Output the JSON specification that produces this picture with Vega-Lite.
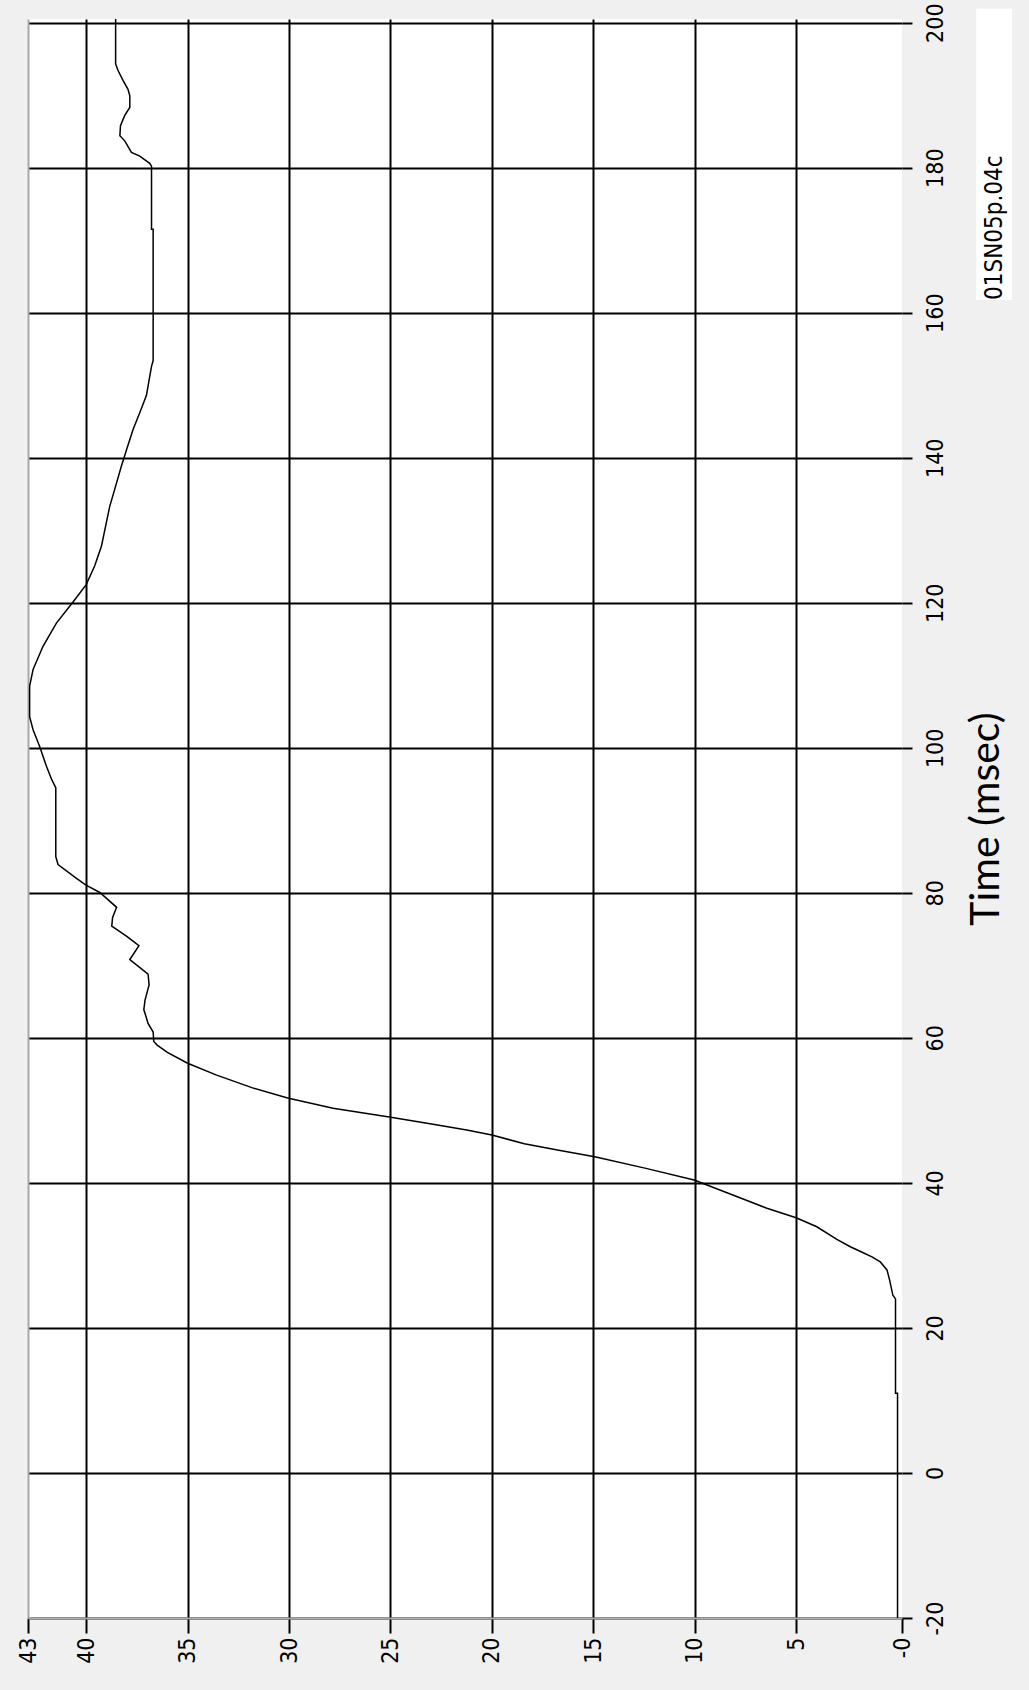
{
  "$schema": "https://vega.github.io/schema/vega-lite/v6.json",
  "autosize": "none",
  "padding": {"left": 28, "top": 19, "right": 127, "bottom": 72},
  "width": 874,
  "height": 1599,
  "background": "#f0f0f0",
  "config": {
    "view": {"stroke": null, "fill": "white"}
  },
  "resolve": {"axis": {"y": "independent"}},
  "layer": [
    {
      "data": {
        "values": [
          {"t": -20, "v": 0}, {"t": 11, "v": 0}, {"t": 11, "v": 0.1}, {"t": 24, "v": 0.1},
          {"t": 24.5, "v": 0.23}, {"t": 26.6, "v": 0.39}, {"t": 28, "v": 0.52}, {"t": 29.1, "v": 0.85},
          {"t": 29.8, "v": 1.26}, {"t": 30.5, "v": 1.8}, {"t": 31.2, "v": 2.33}, {"t": 32.2, "v": 2.99},
          {"t": 33.95, "v": 3.98}, {"t": 35.2, "v": 5.0}, {"t": 36.5, "v": 6.44}, {"t": 38.3, "v": 8.09},
          {"t": 40.4, "v": 10.03}, {"t": 42.0, "v": 12.4}, {"t": 43.6, "v": 14.93}, {"t": 44.5, "v": 16.7},
          {"t": 45.4, "v": 18.4}, {"t": 46.6, "v": 20.0}, {"t": 47.3, "v": 21.24}, {"t": 48.1, "v": 22.9},
          {"t": 49.1, "v": 25.06}, {"t": 50.3, "v": 27.83}, {"t": 51.7, "v": 30.07}, {"t": 53.1, "v": 31.8},
          {"t": 54.9, "v": 33.6}, {"t": 56.5, "v": 35.0}, {"t": 58.0, "v": 36.0}, {"t": 59.0, "v": 36.5},
          {"t": 59.5, "v": 36.67}, {"t": 60.8, "v": 36.7}, {"t": 62.0, "v": 36.95}, {"t": 63.9, "v": 37.16},
          {"t": 65.2, "v": 37.1}, {"t": 67.3, "v": 36.9}, {"t": 68.8, "v": 36.95}, {"t": 70.8, "v": 37.85},
          {"t": 72.7, "v": 37.4}, {"t": 74.0, "v": 38.0}, {"t": 75.4, "v": 38.74}, {"t": 76.6, "v": 38.7},
          {"t": 78.0, "v": 38.5}, {"t": 80.05, "v": 39.33}, {"t": 81.1, "v": 40.03}, {"t": 82.0, "v": 40.48},
          {"t": 83.9, "v": 41.39}, {"t": 85.0, "v": 41.5}, {"t": 94.5, "v": 41.5}, {"t": 95.6, "v": 41.7},
          {"t": 97.45, "v": 41.96}, {"t": 100.2, "v": 42.3}, {"t": 102.5, "v": 42.62}, {"t": 104.3, "v": 42.79},
          {"t": 108.5, "v": 42.79}, {"t": 110.8, "v": 42.62}, {"t": 114.0, "v": 42.13}, {"t": 117.2, "v": 41.47},
          {"t": 120.1, "v": 40.65}, {"t": 122.5, "v": 40.0}, {"t": 125.1, "v": 39.58}, {"t": 127.8, "v": 39.25},
          {"t": 130.6, "v": 39.04}, {"t": 133.3, "v": 38.84}, {"t": 135.6, "v": 38.6}, {"t": 138.9, "v": 38.26},
          {"t": 141.2, "v": 38.0}, {"t": 143.9, "v": 37.69}, {"t": 146.2, "v": 37.36}, {"t": 148.6, "v": 37.03},
          {"t": 151.2, "v": 36.87}, {"t": 152.6, "v": 36.78}, {"t": 153.4, "v": 36.7}, {"t": 171.5, "v": 36.7},
          {"t": 171.5, "v": 36.78}, {"t": 180.2, "v": 36.78}, {"t": 180.6, "v": 36.87}, {"t": 181.6, "v": 37.36},
          {"t": 182.1, "v": 37.77}, {"t": 183.7, "v": 38.1}, {"t": 184.4, "v": 38.34}, {"t": 185.8, "v": 38.31},
          {"t": 187.2, "v": 38.1}, {"t": 188.3, "v": 37.85}, {"t": 189.9, "v": 37.85}, {"t": 190.8, "v": 37.94},
          {"t": 192.0, "v": 38.18}, {"t": 193.4, "v": 38.43}, {"t": 194.3, "v": 38.55}, {"t": 200.5, "v": 38.55}
        ]
      },
      "mark": {"type": "line", "stroke": "black", "strokeWidth": 1.5, "interpolate": "linear"},
      "encoding": {
        "x": {
          "field": "v", "type": "quantitative",
          "scale": {"domain": [-0.22, 42.87], "reverse": true, "nice": false, "zero": false},
          "axis": {
            "orient": "bottom",
            "values": [42.87, 40, 35, 30, 25, 20, 15, 10, 5, -0.22],
            "labelExpr": "datum.value > 42 ? '43' : (datum.value < 0 ? '-0' : datum.label)",
            "title": null,
            "grid": true,
            "gridColor": "black",
            "gridWidth": 2,
            "gridOpacity": {"condition": {"test": "datum.value < 1 || datum.value > 42", "value": 0}, "value": 1},
            "domain": true,
            "domainColor": "#a8a8a8",
            "domainWidth": 2,
            "ticks": true,
            "tickColor": "black",
            "tickWidth": 2,
            "tickSize": 15,
            "labelAngle": -90,
            "labelAlign": "right",
            "labelBaseline": "middle",
            "labelPadding": 4,
            "labelFont": "DejaVu Sans Condensed",
            "labelFontSize": 23,
            "labelColor": "black",
            "labelOverlap": false,
            "labelFlush": false
          }
        },
        "y": {
          "field": "t", "type": "quantitative",
          "scale": {"domain": [-20, 200.5], "nice": false, "zero": false},
          "axis": {
            "orient": "right",
            "values": [-20, 0, 20, 40, 60, 80, 100, 120, 140, 160, 180, 200],
            "labelExpr": "datum.value < 0 ? '-20' : datum.label",
            "title": "Time (msec)",
            "titleFont": "Lato",
            "titleFontSize": 41,
            "titleFontWeight": "normal",
            "titleColor": "black",
            "titleAngle": -90,
            "titleBaseline": "top",
            "titlePadding": 19,
            "grid": true,
            "gridColor": "black",
            "gridWidth": 2,
            "domain": false,
            "ticks": true,
            "tickColor": "black",
            "tickWidth": 2,
            "tickSize": 10,
            "labelAngle": -90,
            "labelAlign": "center",
            "labelBaseline": "top",
            "labelPadding": 12,
            "labelFont": "DejaVu Sans Condensed",
            "labelFontSize": 23,
            "labelColor": "black",
            "labelOverlap": false,
            "labelFlush": false
          }
        },
        "order": {"value": null}
      }
    },
    {
      "data": {"values": [{"label": "01SN05p.04c"}]},
      "mark": {"type": "rect", "fill": "white", "stroke": null},
      "encoding": {
        "x": {"datum": -3.88, "type": "quantitative"},
        "x2": {"datum": -5.64},
        "y": {
          "datum": 201.9, "type": "quantitative",
          "axis": {
            "orient": "left",
            "title": null,
            "grid": false,
            "ticks": false,
            "labels": false,
            "domain": true,
            "domainColor": "#a8a8a8",
            "domainWidth": 2
          }
        },
        "y2": {"datum": 161.75}
      }
    },
    {
      "data": {"values": [{"label": "01SN05p.04c"}]},
      "mark": {
        "type": "text",
        "angle": 270,
        "align": "left",
        "baseline": "alphabetic",
        "font": "DejaVu Sans Condensed",
        "fontSize": 24,
        "color": "black"
      },
      "encoding": {
        "x": {"datum": -5.135, "type": "quantitative"},
        "y": {"datum": 161.75, "type": "quantitative", "axis": null},
        "text": {"field": "label"}
      }
    }
  ]
}
